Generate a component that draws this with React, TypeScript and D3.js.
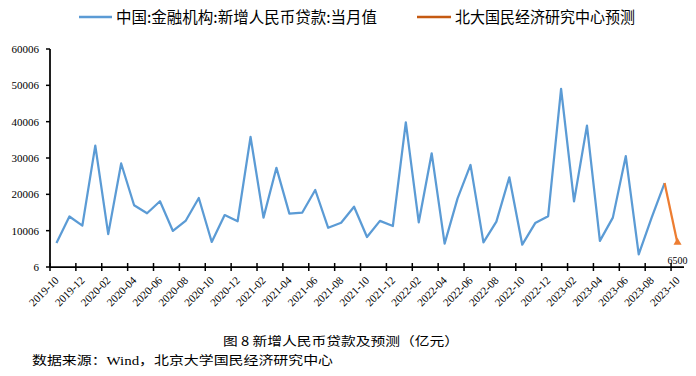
import React from "react";
import * as d3 from "d3";

const categories: string[] = [
  "2019-10", "2019-11", "2019-12",
  "2020-01", "2020-02", "2020-03", "2020-04", "2020-05", "2020-06", "2020-07", "2020-08", "2020-09", "2020-10", "2020-11", "2020-12",
  "2021-01", "2021-02", "2021-03", "2021-04", "2021-05", "2021-06", "2021-07", "2021-08", "2021-09", "2021-10", "2021-11", "2021-12",
  "2022-01", "2022-02", "2022-03", "2022-04", "2022-05", "2022-06", "2022-07", "2022-08", "2022-09", "2022-10", "2022-11", "2022-12",
  "2023-01", "2023-02", "2023-03", "2023-04", "2023-05", "2023-06", "2023-07", "2023-08", "2023-09", "2023-10",
];

// 中国:金融机构:新增人民币贷款:当月值 (2019-10 .. 2023-09)
const actualValues: number[] = [
  6613, 13900, 11400,
  33400, 9057, 28500, 17000, 14800, 18100, 9927, 12800, 19000, 6898, 14300, 12600,
  35800, 13600, 27300, 14700, 15000, 21200, 10800, 12200, 16600, 8262, 12700, 11300,
  39800, 12300, 31300, 6454, 18900, 28100, 6790, 12500, 24700, 6152, 12100, 14000,
  49000, 18100, 38900, 7188, 13600, 30500, 3459, 13600, 23100,
];

// 北大国民经济研究中心预测 (2023-09 .. 2023-10)
const forecastCategories: string[] = ["2023-09", "2023-10"];
const forecastValues: number[] = [23100, 6500];

const yTicks: number[] = [6, 10006, 20006, 30006, 40006, 50006, 60006];

const legendLabels: string[] = ["中国:金融机构:新增人民币贷款:当月值", "北大国民经济研究中心预测"];
const titleText = "图 8  新增人民币贷款及预测（亿元）";

const BLUE = "#5B9BD5";
const ORANGE = "#ED7D31";
const SERIF = "'Liberation Serif', 'Times New Roman', 'DejaVu Serif', serif";
const CJK = "'Noto Sans CJK SC', 'Noto Sans', sans-serif";

export default function App() {
  const W = 696, H = 376;
  const x0 = 50, x1 = 684, yTop = 49, yBot = 267;

  const x = d3.scaleBand<string>().domain(categories).range([x0, x1]).paddingInner(0).paddingOuter(0);
  const bw = x.bandwidth();
  const cx = (c: string) => (x(c) as number) + bw / 2;
  const y = d3.scaleLinear().domain([6, 60006]).range([yBot, yTop]);

  const line = d3.line<[string, number]>().x((d) => cx(d[0])).y((d) => y(d[1]));
  const actualPath = line(categories.slice(0, actualValues.length).map((c, i) => [c, actualValues[i]] as [string, number])) || "";
  const fcPts = forecastCategories.map((c, i) => [c, forecastValues[i]] as [string, number]);
  const forecastPath = line(fcPts) || "";

  const lastFc = fcPts[fcPts.length - 1];
  const tx = cx(lastFc[0]);
  const ty = y(lastFc[1]);
  const tri = d3.symbol().type(d3.symbolTriangle).size(28)() || "";

  const tickIdx = d3.range(0, categories.length, 2);

  return (
    <svg width={W} height={H} style={{ position: "absolute", left: 0, top: 0, background: "#fff" }}>
      {/* Legend */}
      <g>
        <line x1={79} x2={112} y1={17} y2={17} stroke={BLUE} strokeWidth={2.5} />
        <text x={116} y={22.5} fontFamily={CJK} fontSize={15.5} fill="#000" textLength={261} lengthAdjust="spacingAndGlyphs">
          {legendLabels[0]}
        </text>
        <line x1={417} x2={451} y1={17} y2={17} stroke="#C55A11" strokeWidth={2.5} />
        <text x={455} y={22.5} fontFamily={CJK} fontSize={15.5} fill="#000" textLength={180} lengthAdjust="spacingAndGlyphs">
          {legendLabels[1]}
        </text>
      </g>

      {/* Y axis */}
      <line x1={x0} x2={x0} y1={yTop} y2={yBot} stroke="#000" strokeWidth={1.75} />
      {yTicks.map((t) => (
        <g key={t}>
          <line x1={x0 - 4} x2={x0} y1={y(t)} y2={y(t)} stroke="#000" strokeWidth={1.5} />
          <text x={39} y={y(t)} dy="0.35em" textAnchor="end" fontFamily={SERIF} fontSize={11} fill="#000">
            {t}
          </text>
        </g>
      ))}

      {/* X axis */}
      <line x1={x0} x2={x1} y1={yBot} y2={yBot} stroke="#000" strokeWidth={1.75} />
      {tickIdx.map((i) => (
        <line key={"t" + i} x1={x(categories[i]) as number} x2={x(categories[i]) as number} y1={yBot - 4} y2={yBot + 4} stroke="#000" strokeWidth={1.5} />
      ))}
      {tickIdx.map((i) => {
        const px = cx(categories[i]) + 3;
        const py = yBot + 14;
        return (
          <text key={"l" + i} x={px} y={py} textAnchor="end" fontFamily={SERIF} fontSize={11} fill="#000" transform={`rotate(-45 ${px} ${py})`}>
            {categories[i]}
          </text>
        );
      })}

      {/* Lines */}
      <path d={actualPath} fill="none" stroke={BLUE} strokeWidth={2.25} strokeLinejoin="round" />
      <path d={forecastPath} fill="none" stroke={ORANGE} strokeWidth={2.25} strokeLinejoin="round" />
      <path d={tri} transform={`translate(${tx},${ty - 1})`} fill={ORANGE} />
      <text x={tx} y={264} textAnchor="middle" fontFamily={SERIF} fontSize={10} fill="#000">
        {lastFc[1]}
      </text>

      {/* Title and source */}
      <text x={341} y={346} textAnchor="middle" fontFamily={CJK} fontSize={12.5} fill="#000" textLength={236} lengthAdjust="spacingAndGlyphs">
        {titleText}
      </text>
      <text x={32} y={365} fontFamily={CJK} fontSize={12.5} fill="#000" textLength={301} lengthAdjust="spacingAndGlyphs">
        数据来源：<tspan fontFamily={SERIF}>Wind</tspan>，北京大学国民经济研究中心
      </text>
    </svg>
  );
}
